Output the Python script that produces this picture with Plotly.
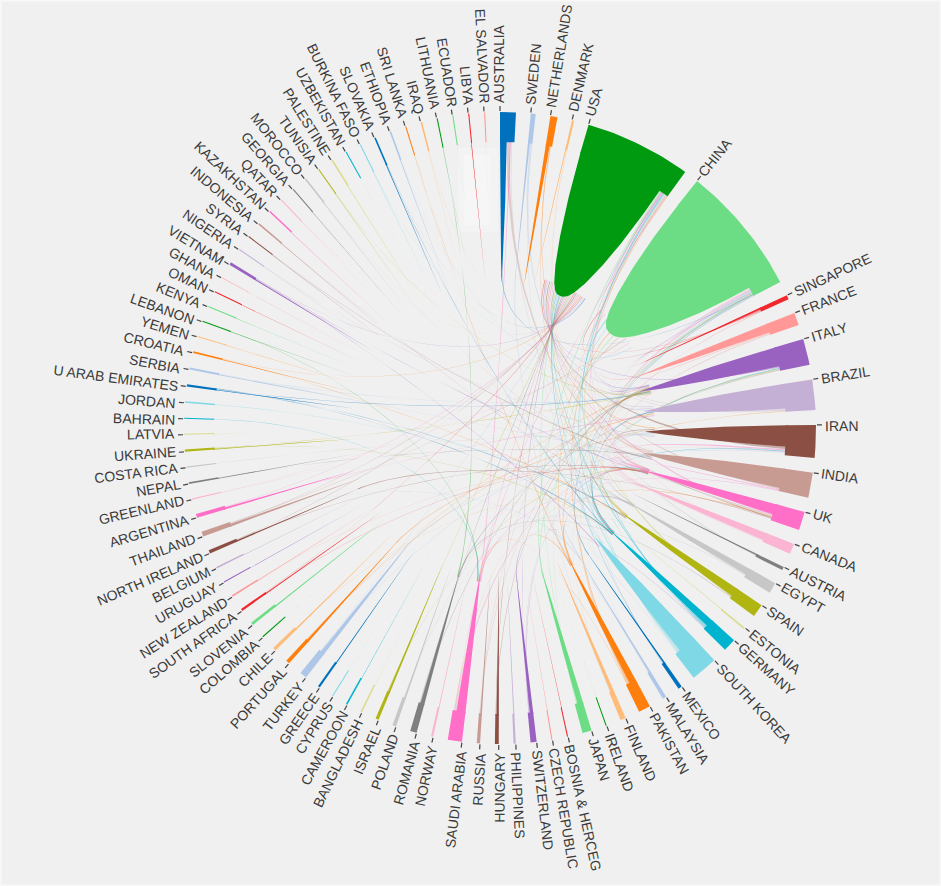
import math
import plotly.graph_objects as go

W, H = 941, 886
CX, CY = 500, 428
R, R_RING, R_TIP, R_CTRL = 316, 286, 145, 90

countries = ["AUSTRALIA","SWEDEN","NETHERLANDS","DENMARK","USA","CHINA","SINGAPORE","FRANCE","ITALY","BRAZIL",
 "IRAN","INDIA","UK","CANADA","AUSTRIA","EGYPT","SPAIN","ESTONIA","GERMANY","SOUTH KOREA",
 "MEXICO","MALAYSIA","PAKISTAN","FINLAND","IRELAND","JAPAN","BOSNIA & HERCEG","CZECH REPUBLIC","SWITZERLAND","PHILIPPINES",
 "HUNGARY","RUSSIA","SAUDI ARABIA","NORWAY","ROMANIA","POLAND","ISRAEL","BANGLADESH","CAMEROON","CYPRUS",
 "GREECE","TURKEY","PORTUGAL","CHILE","COLOMBIA","SLOVENIA","SOUTH AFRICA","NEW ZEALAND","URUGUAY","BELGIUM",
 "NORTH IRELAND","THAILAND","ARGENTINA","GREENLAND","NEPAL","COSTA RICA","UKRAINE","LATVIA","BAHRAIN","JORDAN",
 "U ARAB EMIRATES","SERBIA","CROATIA","YEMEN","LEBANON","KENYA","OMAN","GHANA","VIETNAM","NIGERIA",
 "SYRIA","INDONESIA","KAZAKHSTAN","QATAR","GEORGIA","MOROCCO","TUNISIA","PALESTINE","UZBEKISTAN","BURKINA FASO",
 "SLOVAKIA","ETHIOPIA","SRI LANKA","IRAQ","LITHUANIA","ECUADOR","LIBYA","EL SALVADOR"]

arc_val = [2.9,0.9,1.3,0.4,19.6,23.9,0.8,2.3,4.8,5.6,
 6.0,4.6,3.4,1.9,0.6,2.0,2.4,0.3,2.4,4.9,
 0.7,0.7,2.2,1.0,0.2,1.7,0.2,0.2,1.1,0.4,
 0.7,0.6,2.6,0.4,1.2,0.7,0.6,0.3,0.3,0.2,
 0.4,1.3,0.7,0.6,0.2,0.5,0.4,0.3,0.2,0.3,
 0.6,0.9,0.7,0.2,0.3,0.2,0.4,0.2,0.2,0.3,
 0.4,0.4,0.3,0.2,0.2,0.2,0.2,0.1,0.5,0.2,
 0.2,0.3,0.3,0.2,0.2,0.3,0.2,0.3,0.2,0.2,
 0.3,0.3,0.2,0.3,0.2,0.2,0.2,0.2]

self_val = [1.4,0.4,0.8,0.25,17.7,22.1,0.4,1.8,3.9,5.0,
 4.3,4.0,2.1,1.5,0.3,1.4,1.8,0.15,1.5,3.8,
 0.35,0.4,1.5,0.7,0.1,1.2,0.1,0.1,0.7,0.2,
 0.45,0.3,1.8,0.2,0.8,0.35,0.4,0.12,0.15,0.1,
 0.2,0.85,0.5,0.3,0.1,0.25,0.2,0.15,0.1,0.12,
 0.3,0.5,0.35,0.1,0.15,0.08,0.2,0.08,0.1,0.12,
 0.2,0.18,0.15,0.1,0.1,0.1,0.1,0.05,0.25,0.1,
 0.1,0.12,0.12,0.1,0.1,0.12,0.1,0.14,0.1,0.08,
 0.15,0.14,0.1,0.14,0.1,0.1,0.12,0.08]

palette = ["#0072bd","#aec7e8","#ff7f0e","#ffbb78","#009a11","#6cdd85","#f0282d","#ff9896","#9a62c0","#c5b0d5",
           "#8c4f44","#c79a92","#ff6ec7","#fbb4d2","#7f7f7f","#c7c7c7","#b0b512","#dbdb8d","#00b4d0","#7fd8e6"]

link_src = ["USA"]*12 + ["CHINA"]*11 + ["AUSTRALIA"]*3 + ["SWEDEN"]*3 + ["NETHERLANDS"]*2 + ["DENMARK"]*2 \
 + ["SINGAPORE"]*3 + ["FRANCE"]*3 + ["ITALY"]*5 + ["BRAZIL"]*3 + ["IRAN"]*5 + ["INDIA"]*3 + ["UK"]*5 + ["CANADA"]*2 \
 + ["AUSTRIA"]*2 + ["EGYPT"]*2 + ["SPAIN"]*3 + ["GERMANY"]*4 + ["SOUTH KOREA"]*3 + ["MEXICO"]*2 + ["MALAYSIA"]*2 \
 + ["PAKISTAN"]*3 + ["FINLAND"]*2 + ["JAPAN"]*2 + ["SWITZERLAND"]*3 + ["HUNGARY"]*2 + ["RUSSIA"]*2 + ["SAUDI ARABIA"]*4 \
 + ["ROMANIA"]*2 + ["POLAND"]*2 + ["ISRAEL"]*2 + ["TURKEY"]*2 + ["PORTUGAL"]*2 + ["CHILE"] + ["SOUTH AFRICA"]*2 \
 + ["NEW ZEALAND"] + ["NORTH IRELAND"]*2 + ["THAILAND"]*3 + ["ARGENTINA"]*2 + ["GREENLAND"] + ["NEPAL"] + ["COSTA RICA"] \
 + ["UKRAINE"]*2 + ["BAHRAIN"] + ["JORDAN"] + ["U ARAB EMIRATES"]*3 + ["SERBIA"]*2 + ["CROATIA"]*2 + ["LEBANON"] \
 + ["VIETNAM"]*3 + ["NIGERIA"] + ["SYRIA"] + ["INDONESIA"] + ["QATAR"] + ["MOROCCO"] + ["TUNISIA"] + ["BURKINA FASO"] \
 + ["SLOVAKIA"]*2 + ["ETHIOPIA"] + ["SRI LANKA"] + ["IRAQ"] + ["LITHUANIA"]

link_tgt = ["JAPAN","INDIA","ITALY","UK","GERMANY","SOUTH KOREA","CANADA","SPAIN","BRAZIL","FRANCE","SAUDI ARABIA","PAKISTAN",
 "CANADA","BRAZIL","UK","SOUTH KOREA","ITALY","JAPAN","PAKISTAN","GERMANY","AUSTRALIA","INDIA","MEXICO",
 "INDIA","SAUDI ARABIA","EGYPT",  "ITALY","BRAZIL","GERMANY",  "IRAN","SPAIN",  "UK","INDIA",
 "CHINA","USA","GERMANY",  "ITALY","GERMANY","EGYPT",  "USA","GERMANY","SPAIN","CANADA","ROMANIA",  "USA","CHINA","PORTUGAL",
 "USA","UK","GERMANY","CANADA","TURKEY",  "USA","UK","SAUDI ARABIA",  "USA","INDIA","PAKISTAN","IRAN","NORTH IRELAND",  "USA","UK",
 "USA","ITALY",  "SAUDI ARABIA","IRAN",  "USA","ITALY","ROMANIA",  "USA","CHINA","UK","SWITZERLAND",  "USA","CHINA","MALAYSIA",
 "USA","BRAZIL",  "PAKISTAN","IRAN",  "CHINA","UK","SAUDI ARABIA",  "UK","SWEDEN",  "USA","CHINA",  "UK","EGYPT","USA",
 "ITALY","USA",  "ITALY","CHINA",  "UK","EGYPT","PAKISTAN","USA",  "ITALY","USA",  "ITALY","GERMANY",  "USA","UK",
 "IRAN","USA",  "BRAZIL","ITALY",  "SPAIN",  "UK","USA",  "UK",  "UK","USA",  "USA","CHINA","MALAYSIA",  "BRAZIL","USA",
 "CHINA",  "INDIA",  "IRAN",  "ITALY","GERMANY",  "SAUDI ARABIA",  "EGYPT",  "ITALY","GERMANY","SPAIN",  "ITALY","INDIA",
 "SPAIN","USA",  "SAUDI ARABIA",  "UK","USA","SOUTH KOREA",  "IRAN",  "INDIA",  "EGYPT",  "USA",  "UK",  "ITALY",  "CHINA",
 "GERMANY","USA",  "ITALY",  "PAKISTAN",  "ITALY",  "ROMANIA"]

link_val = [0.25,0.2,0.2,0.2,0.3,0.15,0.2,0.15,0.15,0.1,0.1,0.1,
 0.25,0.2,0.2,0.25,0.15,0.15,0.15,0.15,0.1,0.1,0.08,
 0.6,0.2,0.2,  0.2,0.15,0.1,  0.15,0.1,  0.15,0.1,
 0.3,0.15,0.1,  0.2,0.15,0.1,  0.25,0.2,0.15,0.1,0.1,  0.2,0.2,0.1,
 0.5,0.3,0.2,0.15,0.1,  0.3,0.2,0.1,  0.3,0.2,0.2,0.15,0.1,  0.15,0.1,
 0.08,0.05,  0.15,0.1,  0.15,0.1,0.1,  0.3,0.2,0.1,0.1,  0.4,0.2,0.1,
 0.08,0.06,  0.08,0.06,  0.25,0.15,0.1,  0.1,0.08,  0.1,0.06,  0.1,0.08,0.06,
 0.12,0.1,  0.12,0.08,  0.2,0.15,0.1,0.08,  0.12,0.1,  0.08,0.06,  0.1,0.08,
 0.1,0.08,  0.08,0.06,  0.1,  0.08,0.06,  0.06,  0.08,0.06,  0.12,0.1,0.08,  0.1,0.08,
 0.08,  0.07,  0.06,  0.08,0.06,  0.08,  0.08,  0.1,0.08,0.06,  0.08,0.06,
 0.08,0.06,  0.06,  0.08,0.07,0.05,  0.04,  0.05,  0.04,  0.04,  0.05,  0.04,  0.05,
 0.06,0.04,  0.04,  0.05,  0.05,  0.05]

gap = (360 - sum(arc_val)) / len(arc_val)
starts, a = {}, 0.0
for name, v in zip(countries, arc_val):
    starts[name] = a
    a += v + gap
arc_of = dict(zip(countries, arc_val))
self_of = dict(zip(countries, self_val))
out_sum = {c: 0.0 for c in countries}
in_count = {c: 0 for c in countries}
for s, t, v in zip(link_src, link_tgt, link_val):
    out_sum[s] += v
    in_count[t] += 1


def polar(theta, r):
    t = math.radians(theta)
    return r * math.sin(t), r * math.cos(t)


def cubic(p0, p1, p2, p3, n=30):
    out = []
    for k in range(n + 1):
        u = k / n
        v = 1 - u
        out.append(tuple(v**3*p0[d] + 3*v*v*u*p1[d] + 3*v*u*u*p2[d] + u**3*p3[d] for d in (0, 1)))
    return out


def add_poly(fig, pts, color, opacity=1.0):
    fig.add_trace(go.Scatter(x=[p[0] for p in pts], y=[p[1] for p in pts], mode="lines", fill="toself",
                             fillcolor=color, opacity=opacity, line=dict(width=0, color=color),
                             hoverinfo="skip", showlegend=False))


fig = go.Figure()

# links, coloured after the smaller of their two countries; they land spread over the target's own ribbon
offset = {c: starts[c] + self_of[c] for c in countries}
seen = {c: 0 for c in countries}
END_HALF = 0.15
for s, t, v in zip(link_src, link_tgt, link_val):
    room = arc_of[s] - self_of[s]
    v = v * min(1.0, room / out_sum[s])
    a0 = offset[s]
    a1 = a0 + v
    offset[s] = a1
    seen[t] += 1
    landing = starts[t] + self_of[t] * seen[t] / (in_count[t] + 1)
    e0, e1 = landing - END_HALF, landing + END_HALF
    edge0 = cubic(polar(a0, R_RING + 2), polar(a0, R_CTRL), polar(e1, R_CTRL), polar(e1, R_TIP + 10))
    edge1 = cubic(polar(a1, R_RING + 2), polar(a1, R_CTRL), polar(e0, R_CTRL), polar(e0, R_TIP + 10))
    if arc_of[t] < arc_of[s] or (arc_of[s] > 2.5 and arc_of[t] < 8):
        owner = t
    else:
        owner = s
    add_poly(fig, edge0 + edge1[::-1], palette[countries.index(owner) % 20], 0.42)

# group arcs and the wide ribbons
for i, name in enumerate(countries):
    col = palette[i % 20]
    a0 = starts[name]
    w = arc_val[i]
    sv = self_val[i]
    ring = [polar(a0 + w * k / 24, R) for k in range(25)] + [polar(a0 + w * k / 24, R_RING) for k in range(24, -1, -1)]
    add_poly(fig, ring, col)
    tip = a0 + 0.45 * sv
    exponent = 0.42 if w > 15 else 0.8
    left, right = [], []
    for k in range(61):
        t = (k / 60) ** 1.6 * (R_RING + 2 - R_TIP) / (R - R_TIP)
        f = (1 - (1 - t) ** 3) ** exponent
        r = R_TIP + t * (R - R_TIP)
        left.append(polar(tip + (a0 - tip) * f, r))
        right.append(polar(tip + (a0 + sv - tip) * f, r))
    top = [polar(a0 + sv - sv * k / 24, R_RING + 2) for k in range(1, 24)]
    add_poly(fig, left[::-1] + right + top, col)

# ticks
tx, ty = [], []
for name in countries:
    p, q = polar(starts[name], R + 1), polar(starts[name], R + 6)
    tx += [p[0], q[0], None]
    ty += [p[1], q[1], None]
fig.add_trace(go.Scatter(x=tx, y=ty, mode="lines", line=dict(color="#444444", width=1.2),
                         hoverinfo="skip", showlegend=False))

# labels
FS = 14
LH = FS * 1.3
annotations = []
for name in countries:
    th = starts[name]
    x, y = polar(th, R + 9)
    right_side = th < 180
    phi = th - 90 if right_side else th - 270
    sn, cs = math.sin(math.radians(abs(phi))), math.cos(math.radians(abs(phi)))
    xshift = -LH / 2 * sn if right_side else LH / 2 * sn
    xanchor = "left" if right_side else "right"
    down = (phi >= 0) if right_side else (phi < 0)
    yanchor = "top" if down else "bottom"
    yshift = LH / 2 * cs if down else -LH / 2 * cs
    annotations.append(dict(x=x, y=y, text=name, showarrow=False, textangle=phi, xanchor=xanchor, yanchor=yanchor,
                            xshift=xshift, yshift=yshift, borderpad=0, borderwidth=0,
                            font=dict(family="Liberation Sans, Arial", size=FS, color="#3a3a3a")))

fig.update_layout(
    width=W, height=H, margin=dict(l=0, r=0, t=0, b=0), autosize=False,
    paper_bgcolor="#f0f0f0", plot_bgcolor="#f0f0f0", showlegend=False, annotations=annotations,
    xaxis=dict(range=[-CX, W - CX], visible=False, fixedrange=True),
    yaxis=dict(range=[-(H - CY), CY], visible=False, fixedrange=True),
    shapes=[dict(type="rect", layer="below", xref="paper", yref="paper", x0=0, x1=1, y0=0, y1=1,
                 line=dict(color="#f8f8f8", width=3), fillcolor="rgba(0,0,0,0)"),
            dict(type="rect", layer="below", xref="x", yref="y", x0=-42, x1=-2, y0=CY - 232, y1=CY - 148,
                 line=dict(width=0), fillcolor="#f3f3f3"),
            dict(type="rect", layer="below", xref="x", yref="y", x0=-36, x1=-10, y0=CY - 225, y1=CY - 155,
                 line=dict(width=0), fillcolor="#f6f6f6")],
)
fig.write_html("out.html", config=dict(displayModeBar=False),
               post_script="document.body.style.margin='0';document.body.style.overflow='hidden';")
